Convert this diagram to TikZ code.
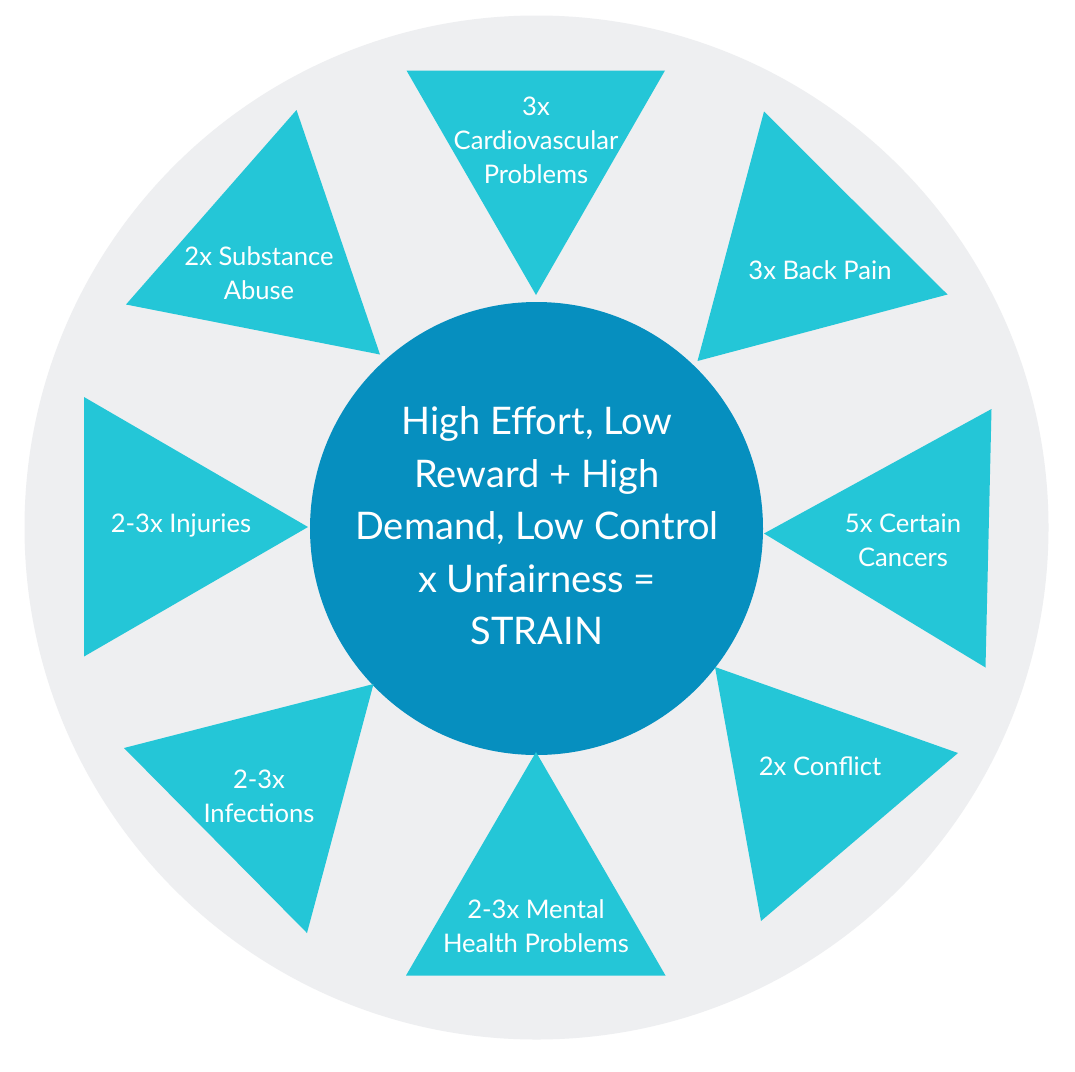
\documentclass[tikz,border=0pt]{standalone}
\usepackage{fontspec}
\setmainfont{Lato}
\definecolor{outerbg}{HTML}{EEEFF1}
\definecolor{tri}{HTML}{24C6D7}
\definecolor{core}{HTML}{068FBF}
\begin{document}
\begin{tikzpicture}[x=1pt,y=-1pt,
  trishape/.style={fill=tri,draw=none},
  trilabel/.style={text=white,align=center,font=\fontsize{25.6}{34.3}\selectfont,inner sep=0pt},
  corelabel/.style={text=white,align=center,font=\fontsize{38}{52.5}\selectfont,inner sep=0pt}]
\useasboundingbox (0,0) rectangle (1075,1071);
\fill[white] (0,0) rectangle (1075,1071);
\fill[outerbg] (536.5,527.5) circle (512);
\fill[core] (536.5,528.5) circle (226.5);
% triangles
\fill[trishape] (406.5,70.5) -- (665,70.5) -- (536,295) -- cycle;
\fill[trishape] (764,111.5) -- (947.5,294.5) -- (697.5,361) -- cycle;
\fill[trishape] (991.5,409) -- (985.5,667.5) -- (764,533.5) -- cycle;
\fill[trishape] (715,667) -- (958,753) -- (761,921) -- cycle;
\fill[trishape] (536,752) -- (665.5,975.5) -- (406,975.5) -- cycle;
\fill[trishape] (124,748) -- (373.5,684) -- (307,933) -- cycle;
\fill[trishape] (84,397) -- (308,527) -- (84,656.5) -- cycle;
\fill[trishape] (296.5,110) -- (380,354.5) -- (126,304.5) -- cycle;
% labels
\node[trilabel] (cardio) at (536,140.5) {3x\\Cardiovascular\\Problems};
\node[trilabel] (back) at (820,270.5) {3x Back Pain};
\node[trilabel] (cancer) at (903,540) {5x Certain\\Cancers};
\node[trilabel] (conflict) at (820,766.5) {2x Conflict};
\node[trilabel] (mental) at (536,926.5) {2-3x Mental\\Health Problems};
\node[trilabel] (infect) at (259,796.5) {2-3x\\Infections};
\node[trilabel] (injury) at (181,525.5) {2-3x Injuries};
\node[trilabel] (subst) at (259,273.5) {2x Substance\\Abuse};
\node[corelabel] (strain) at (537,526) {High Effort, Low\\Reward + High\\Demand, Low Control\\x Unfairness =\\STRAIN};
\end{tikzpicture}
\end{document}
